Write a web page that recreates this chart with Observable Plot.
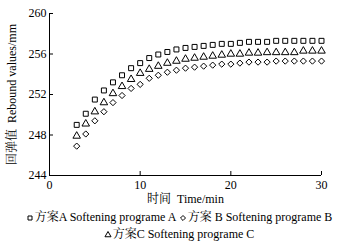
<!DOCTYPE html>
<html><head><meta charset="utf-8">
<script src="https://cdn.jsdelivr.net/npm/d3@7"></script>
<script src="https://cdn.jsdelivr.net/npm/@observablehq/plot@0.6"></script>
<style>
body{margin:0;background:#fff;}
#c{width:340px;font-family:"Liberation Serif","Noto Serif CJK SC","Noto Sans CJK SC",serif;color:#000;}
.leg{text-align:center;font-size:12px;line-height:17px;white-space:nowrap;margin-top:3px;padding-left:18px;box-sizing:border-box;width:340px;}
.leg svg{vertical-align:middle;margin-right:1px;}
</style></head><body><div id="c"></div>
<script>
const times = d3.range(3, 31);
const seriesA = [249.0,250.1,251.5,252.4,253.2,253.9,254.6,255.1,255.6,255.95,256.2,256.45,256.6,256.7,256.8,256.9,257.0,257.0,257.1,257.2,257.2,257.2,257.3,257.3,257.3,257.3,257.3,257.3];
const seriesB = [246.9,248.1,249.4,250.3,251.2,251.9,252.6,253.0,253.6,253.9,254.2,254.4,254.6,254.7,254.8,254.9,255.0,255.0,255.1,255.2,255.2,255.2,255.3,255.3,255.3,255.3,255.3,255.3];
const seriesC = [247.9,249.1,250.3,251.2,252.1,252.8,253.5,254.1,254.5,254.8,255.1,255.3,255.5,255.6,255.7,255.8,255.9,256.0,256.0,256.1,256.1,256.15,256.15,256.15,256.15,256.3,256.3,256.3];
const xTicks = [0,10,20,30];
const yTicks = [244,248,252,256,260];
const seriesNames = ["方案A Softening programe A","方案 B  Softening programe B","方案C  Softening programe C"];
const symbols = ["square","diamond2","triangle"];

const rows = [];
[seriesA, seriesB, seriesC].forEach((s, i) => s.forEach((v, j) => rows.push({t: times[j], v, s: i})));

const font = '"Liberation Serif","Noto Serif CJK SC","Noto Sans CJK SC",serif';
const chart = Plot.plot({
  width: 340, height: 206,
  marginLeft: 49, marginRight: 19, marginTop: 13, marginBottom: 31,
  style: {fontFamily: font, fontSize: "12px", color: "#000", background: "#fff"},
  x: {domain: [0, 30]},
  y: {domain: [244, 260]},
  marks: [
    Plot.ruleX([0], {stroke: "#000"}),
    Plot.ruleY([244], {stroke: "#000"}),
    Plot.axisX({ticks: xTicks, tickSize: -4, tickPadding: 9, tickFormat: d => d, label: null, fontSize: 12}),
    Plot.axisY({ticks: yTicks, tickSize: -4, tickPadding: 7, tickFormat: d => d, label: null, fontSize: 12}),
    Plot.text(["时间  Time/min"], {frameAnchor: "bottom", dy: 24, lineAnchor: "middle", fontSize: 12}),
    Plot.text(["回弹值  Rebound values/mm"], {frameAnchor: "left", dx: -37, rotate: -90, textAnchor: "middle", lineAnchor: "middle", fontSize: 12}),
    Plot.dot(rows, {x: "t", y: "v", symbol: d => symbols[d.s], r: 2.8, stroke: "#000", strokeWidth: 1, fill: "none"})
  ]
});
const c = document.getElementById("c");
c.appendChild(chart);
function sym(type){
  const path = d3.symbol(type === "square" ? d3.symbolSquare : type === "diamond2" ? d3.symbolDiamond2 : d3.symbolTriangle, 16)();
  return `<svg width="8" height="8" viewBox="-4 -4 8 8"><path d="${path}" fill="none" stroke="#000" stroke-width="1"/></svg>`;
}
const leg = document.createElement("div");
leg.className = "leg";
leg.innerHTML = `<div>${sym(symbols[0])}${seriesNames[0]} ${sym(symbols[1])}${seriesNames[1]}</div><div>${sym(symbols[2])}${seriesNames[2]}</div>`;
c.appendChild(leg);
</script></body></html>
